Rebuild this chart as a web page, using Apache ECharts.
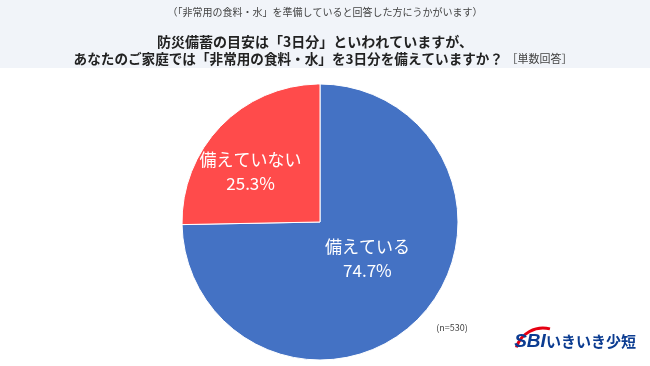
<!DOCTYPE html>
<html><head><meta charset="utf-8">
<script src="https://cdn.jsdelivr.net/npm/echarts@6/dist/echarts.min.js"></script>
<style>html,body{margin:0;padding:0;background:#fff}#c{width:650px;height:366px}</style>
</head><body><div id="c"></div>
<script>
const categories = ['備えている', '備えていない'];
const values = [74.7, 25.3];
const colors = ['#4472C4', '#FF4B4B'];
const subtitle = '（「非常用の食料・水」を準備していると回答した方にうかがいます）';
const titleLine1 = '防災備蓄の目安は「3日分」といわれていますが、';
const titleLine2 = 'あなたのご家庭では「非常用の食料・水」を3日分を備えていますか？';
const answerType = '［単数回答］';
const sampleNote = '(n=530)';

const font = '"Noto Sans CJK JP", "Noto Sans", sans-serif';
const chart = echarts.init(document.getElementById('c'));
chart.setOption({
  animation: false,
  textStyle: { fontFamily: font },
  graphic: [
    { type: 'rect', shape: { x: 0, y: 0, width: 650, height: 68 }, style: { fill: '#F1F4F9' }, z: -1 },
    { type: 'text', x: 325, y: 12, style: { text: subtitle, fill: '#444', font: '10px ' + font, textAlign: 'center', textVerticalAlign: 'middle' } },
    { type: 'text', x: 315, y: 42, style: { text: titleLine1, fill: '#222', font: 'bold 14px ' + font, textAlign: 'center', textVerticalAlign: 'middle' } },
    { type: 'text', x: 323, y: 59, style: {
        text: '{m|' + titleLine2 + '} {s|' + answerType + '}',
        rich: {
          m: { fill: '#222', fontSize: 13.6, fontWeight: 'bold', fontFamily: font },
          s: { fill: '#444', fontSize: 11, fontFamily: font }
        },
        textAlign: 'center', textVerticalAlign: 'middle' } },
    { type: 'text', x: 452, y: 328, style: { text: sampleNote, fill: '#444', font: '9px ' + font, textAlign: 'center', textVerticalAlign: 'middle' } },
    { type: 'arc', shape: { cx: 543, cy: 356, r: 28, startAngle: -Math.PI * 0.9, endAngle: -Math.PI * 0.42 }, style: { stroke: '#E60012', lineWidth: 3, fill: null } },
    { type: 'text', x: 530, y: 342, style: { text: 'SBI', fill: '#0B3C91', font: 'italic bold 19px "Liberation Sans", sans-serif', textAlign: 'center', textVerticalAlign: 'middle' } },
    { type: 'text', x: 591, y: 341, style: { text: 'いきいき少短', fill: '#0B3C91', font: 'bold 15px ' + font, textAlign: 'center', textVerticalAlign: 'middle' } }
  ],
  series: [{
    type: 'pie',
    center: [320, 222],
    radius: 138,
    startAngle: 90,
    clockwise: true,
    data: categories.map((n, i) => ({ name: n, value: values[i], itemStyle: { color: colors[i] },
      label: { offset: i === 0 ? [-4, -14] : [-18, 0] } })),
    itemStyle: { borderColor: '#fff', borderWidth: 1 },
    label: {
      show: true, position: 'inside', color: '#fff', fontSize: 17, lineHeight: 24,
      fontFamily: font,
      formatter: p => p.name + '\n' + p.value.toFixed(1) + '%'
    },
    labelLine: { show: false },
    emphasis: { disabled: true }
  }]
});
</script></body></html>
